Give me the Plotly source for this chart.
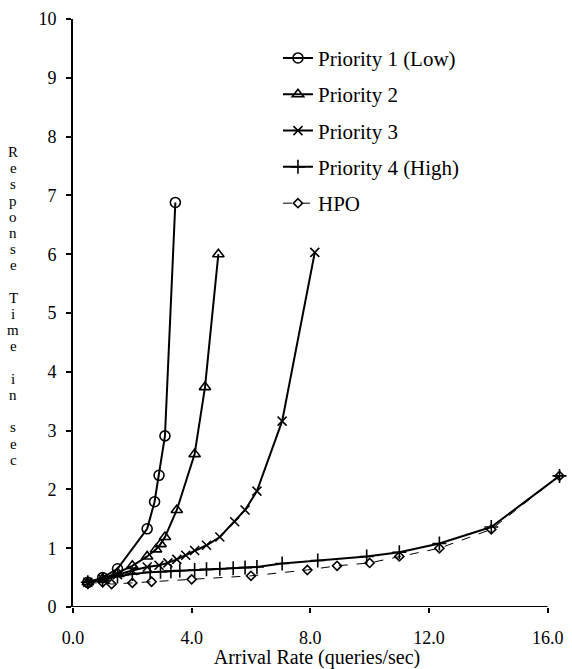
import plotly.graph_objects as go

# Data
p1_x = [0.5, 1.0, 1.5, 2.5, 2.75, 2.9, 3.1, 3.45]
p1_y = [0.42, 0.50, 0.65, 1.33, 1.79, 2.24, 2.91, 6.88]

p2_x = [0.5, 1.0, 1.5, 2.0, 2.5, 2.8, 2.95, 3.1, 3.5, 4.1, 4.45, 4.9]
p2_y = [0.42, 0.48, 0.58, 0.70, 0.86, 0.98, 1.07, 1.19, 1.65, 2.60, 3.74, 6.00]

p3_x = [0.5, 1.0, 1.5, 2.0, 2.5, 2.9, 3.2, 3.5, 3.8, 4.1, 4.5, 4.95, 5.45, 5.8, 6.2, 7.05, 8.15]
p3_y = [0.42, 0.48, 0.55, 0.62, 0.68, 0.71, 0.75, 0.81, 0.88, 0.96, 1.05, 1.19, 1.45, 1.65, 1.97, 3.16, 6.03]

p4_x = [0.5, 1.0, 1.5, 2.0, 2.6, 2.95, 3.3, 3.6, 4.1, 4.5, 4.95, 5.4, 5.8, 6.2, 7.05, 8.25, 9.9, 11.0, 12.35, 14.1, 16.4]
p4_y = [0.42, 0.46, 0.52, 0.56, 0.59, 0.60, 0.61, 0.62, 0.63, 0.64, 0.65, 0.66, 0.67, 0.68, 0.74, 0.79, 0.86, 0.93, 1.08, 1.36, 2.23]

hpo_x = [0.5, 1.0, 1.3, 2.0, 2.65, 4.0, 6.0, 7.9, 8.9, 10.0, 11.0, 12.35, 14.1, 16.4]
hpo_y = [0.40, 0.42, 0.39, 0.41, 0.43, 0.47, 0.53, 0.63, 0.70, 0.75, 0.86, 1.00, 1.32, 2.23]

x_ticks = [0, 4, 8, 12, 16]
x_ticklabels = ["0.0", "4.0", "8.0", "12.0", "16.0"]
y_ticks = list(range(0, 11))

series = [
    ("Priority 1 (Low)", p1_x, p1_y, "circle-open", 10, "solid", 2),
    ("Priority 2", p2_x, p2_y, "triangle-up-open", 10, "solid", 2),
    ("Priority 3", p3_x, p3_y, "x-thin-open", 9, "solid", 2),
    ("Priority 4 (High)", p4_x, p4_y, "cross-thin-open", 10, "solid", 2),
    ("HPO", hpo_x, hpo_y, "diamond-open", 7, "dash", 1),
]

FONT = "Liberation Serif, Times New Roman, serif"

fig = go.Figure()
for i, (name, xs, ys, sym, size, dash, lw) in enumerate(series):
    fig.add_trace(go.Scatter(
        x=xs, y=ys, name=name, mode="lines+markers",
        line=dict(color="black", width=lw, dash=dash),
        marker=dict(symbol=sym, size=size, color="black",
                    line=dict(color="black", width=1.6)),
        legendgroup=f"g{i}", cliponaxis=False,
    ))

# Vertical stacked y-axis title, one letter per line
ylabel_words = ["Response", "Time", "in", "sec"]
H_PLOT = 669 - 19 - 62
line_px = 16.2
cur_px = 152.0  # pixel from top of figure for first letter centre
for w, word in enumerate(ylabel_words):
    for ch in word:
        ypaper = (669 - 62 - cur_px) / H_PLOT
        fig.add_annotation(
            text=ch, xref="paper", yref="paper", x=-0.122, y=ypaper,
            xanchor="center", yanchor="middle", showarrow=False,
            font=dict(family=FONT, size=15, color="black"),
        )
        cur_px += line_px
    cur_px += line_px

# x axis line (0 .. 16) so the last data point can sit past the axis end
fig.add_shape(type="line", xref="x", yref="y", x0=x_ticks[0], x1=x_ticks[-1],
              y0=0, y1=0, line=dict(color="black", width=2), layer="above")

fig.update_layout(
    width=572, height=669,
    margin=dict(l=73, r=11, t=19, b=62),
    paper_bgcolor="white", plot_bgcolor="white",
    font=dict(family=FONT, size=17, color="black"),
    showlegend=True,
    legend=dict(x=0.42, y=0.968, xanchor="left", yanchor="top",
                bgcolor="rgba(0,0,0,0)", font=dict(family=FONT, size=21),
                tracegroupgap=6),
    xaxis=dict(range=[0, 16.45], tickvals=x_ticks, ticktext=x_ticklabels,
               showgrid=False, zeroline=False, showline=False, automargin=False,
               ticks="outside", ticklen=5, tickcolor="black", tickwidth=1.5,
               ticklabelstandoff=9,
               tickfont=dict(family=FONT, size=18),
               title=dict(text="Arrival Rate (queries/sec)", standoff=0,
                          font=dict(family=FONT, size=20))),
    yaxis=dict(range=[0, 10], tickvals=y_ticks, showgrid=False, zeroline=False,
               showline=True, linecolor="black", linewidth=2, ticks="outside",
               ticklen=5, tickcolor="black", tickwidth=1.5, ticklabelstandoff=6,
               automargin=False, tickfont=dict(family=FONT, size=18)),
)

fig.write_html("out.html")
